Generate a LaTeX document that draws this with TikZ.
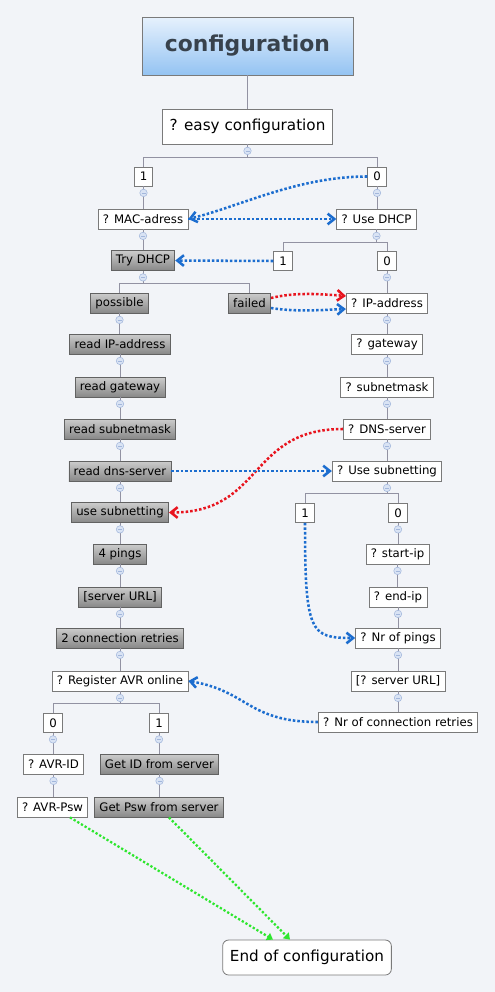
\documentclass[tikz,border=0pt]{standalone}
\usepackage{fontspec}
\setmainfont{DejaVu Sans}
\usetikzlibrary{calc}
\usetikzlibrary{arrows.meta}
\definecolor{bgcol}{HTML}{F2F4F8}
\definecolor{treecol}{HTML}{9292A2}
\definecolor{boxcol}{HTML}{7A7A7A}
\definecolor{titletop}{HTML}{E6F1FD}
\definecolor{titlebot}{HTML}{94C3F2}
\definecolor{titletext}{HTML}{38424C}
\definecolor{acttop}{HTML}{CCCCCC}
\definecolor{actbot}{HTML}{888888}
\definecolor{bluecol}{HTML}{1C6DCF}
\definecolor{redcol}{HTML}{E8141E}
\definecolor{greencol}{HTML}{2EE62E}
\definecolor{knobfill}{HTML}{D9E3F4}
\definecolor{knobline}{HTML}{A3B7DC}
\tikzset{
  qbox/.style={draw=boxcol, line width=0.6pt, fill=white, font=\fontsize{8.8}{10}\selectfont,
    inner xsep=3.6pt, inner ysep=0pt, minimum height=15pt},
  digit/.style={qbox, minimum width=14pt, minimum height=14.25pt, inner xsep=0pt},
  actbox/.style={draw=boxcol!80!black, line width=0.6pt, top color=acttop, bottom color=actbot,
    font=\fontsize{8.8}{10}\selectfont, inner xsep=3.6pt, inner ysep=0pt, minimum height=15pt},
  titlebox/.style={draw=boxcol, line width=0.6pt, top color=titletop, bottom color=titlebot,
    text=titletext, font=\fontsize{16.4}{18}\selectfont\bfseries, minimum width=158.25pt, minimum height=43.5pt},
  bigbox/.style={qbox, font=\fontsize{11.4}{13}\selectfont, inner xsep=5.5pt, minimum height=26.25pt},
  endbox/.style={bigbox, rounded corners=4.5pt},
  tree/.style={draw=treecol, line width=0.6pt},
  knob/.style={circle, draw=knobline, fill=knobfill, line width=0.4pt, inner sep=0pt, minimum size=5.6pt,
    path picture={\draw[knobline, line width=0.4pt] ([xshift=-1.5pt]path picture bounding box.center)
      -- ([xshift=1.5pt]path picture bounding box.center);}},
  blink/.style={draw=bluecol, line width=1.9pt, dash pattern=on 1.9pt off 1.5pt,
    -{Straight Barb[length=5pt,width=8pt,line width=1.9pt]}},
  rlink/.style={blink, draw=redcol},
  glink/.style={draw=greencol, line width=1.7pt, dash pattern=on 1.7pt off 1.5pt,
    -{Triangle[length=4.5pt,width=6pt]}},
}

\begin{document}
\begin{tikzpicture}[x=0.75pt,y=-0.75pt]
    \fill[bgcol] (0,0) rectangle (495,992);
    \useasboundingbox (0,0) rectangle (495,992);

    % root and first question
    \node[titlebox] (title) at (247.5,46) {configuration};
    \node[bigbox] (easy) at (247.5,126.5) {? easy configuration};

    % answers to easy configuration
    \node[digit] (one1) at (143.5,176.5) {1};
    \node[digit] (zero1) at (377,176.5) {0};
    \node[qbox] (mac) at (143,219) {? MAC-adress};
    \node[qbox] (usedhcp) at (376.5,219) {? Use DHCP};

    % dhcp branch
    \node[actbox] (try) at (143,260.5) {Try DHCP};
    \node[digit] (dhcpone) at (283,261) {1};
    \node[digit] (dhcpzero) at (387,261) {0};
    \node[actbox] (possible) at (119.5,303) {possible};
    \node[actbox] (failed) at (249.5,303) {failed};

    % left column, read from dhcp
    \node[actbox] (readip) at (120,344) {read IP-address};
    \node[actbox] (readgw) at (120,387) {read gateway};
    \node[actbox] (readmask) at (120,429) {read subnetmask};
    \node[actbox] (readdns) at (120,471) {read dns-server};
    \node[actbox] (usesubact) at (120,512.5) {use subnetting};
    \node[actbox] (pings4) at (120,554) {4 pings};
    \node[actbox] (srvurl) at (120,597) {[server URL]};
    \node[actbox] (retries2) at (120,638) {2 connection retries};
    \node[qbox] (register) at (120,681) {? Register AVR online};

    % right column, ask the user
    \node[qbox] (ipaddr) at (387,303) {? IP-address};
    \node[qbox] (gateway) at (387,344) {? gateway};
    \node[qbox] (subnet) at (387,387) {? subnetmask};
    \node[qbox] (dns) at (387,429) {? DNS-server};
    \node[qbox] (usesub) at (387,471) {? Use subnetting};
    \node[digit] (subone) at (305,513) {1};
    \node[digit] (subzero) at (398,513) {0};
    \node[qbox] (startip) at (397.5,554) {? start-ip};
    \node[qbox] (endip) at (398,597) {? end-ip};
    \node[qbox] (nrpings) at (398,638) {? Nr of pings};
    \node[qbox] (qsrvurl) at (398,681) {[? server URL]};
    \node[qbox] (nrconn) at (398,722) {? Nr of connection retries};

    % register branch
    \node[digit] (regzero) at (53,723) {0};
    \node[digit] (regone) at (159,723) {1};
    \node[qbox] (avrid) at (53.5,764) {? AVR-ID};
    \node[actbox] (getid) at (159.5,764) {Get ID from server};
    \node[qbox] (avrpsw) at (52.5,807) {? AVR-Psw};
    \node[actbox] (getpsw) at (159,807) {Get Psw from server};

    % end
    \node[endbox] (endc) at (307,957.5) {End of configuration};

    % tree lines
    \draw[tree] (title.south) -- (easy.north);
    \draw[tree] (easy.south) -- ++(0,13) -| (one1.north);
    \draw[tree] (easy.south) -- ++(0,13) -| (zero1.north);
    \draw[tree] (one1.south) -- (one1.south |- mac.north);
    \draw[tree] (zero1.south) -- (zero1.south |- usedhcp.north);
    \draw[tree] (mac.south) -- (mac.south |- try.north);
    \draw[tree] (usedhcp.south) -- ++(0,13) -| (dhcpone.north);
    \draw[tree] (usedhcp.south) -- ++(0,13) -| (dhcpzero.north);
    \draw[tree] (try.south) -- ++(0,12) -| (possible.north);
    \draw[tree] (try.south) -- ++(0,12) -| (failed.north);
    \draw[tree] (possible.south) -- (possible.south |- readip.north);
    \draw[tree] (readip) -- (readgw);
    \draw[tree] (readgw) -- (readmask);
    \draw[tree] (readmask) -- (readdns);
    \draw[tree] (readdns) -- (usesubact);
    \draw[tree] (usesubact) -- (pings4);
    \draw[tree] (pings4) -- (srvurl);
    \draw[tree] (srvurl) -- (retries2);
    \draw[tree] (retries2) -- (register);
    \draw[tree] (dhcpzero) -- (ipaddr);
    \draw[tree] (ipaddr) -- (gateway);
    \draw[tree] (gateway) -- (subnet);
    \draw[tree] (subnet) -- (dns);
    \draw[tree] (dns) -- (usesub);
    \draw[tree] (usesub.south) -- ++(0,12) -| (subone.north);
    \draw[tree] (usesub.south) -- ++(0,12) -| (subzero.north);
    \draw[tree] (subzero.south) -- (subzero.south |- startip.north);
    \draw[tree] (startip.south) -- (startip.south |- endip.north);
    \draw[tree] (endip) -- (nrpings);
    \draw[tree] (nrpings) -- (qsrvurl);
    \draw[tree] (qsrvurl) -- (nrconn);
    \draw[tree] (register.south) -- ++(0,12) -| (regzero.north);
    \draw[tree] (register.south) -- ++(0,12) -| (regone.north);
    \draw[tree] (regzero.south) -- (regzero.south |- avrid.north);
    \draw[tree] (avrid.south) -- (avrid.south |- avrpsw.north);
    \draw[tree] (regone.south) -- (regone.south |- getid.north);
    \draw[tree] (getid.south) -- (getid.south |- getpsw.north);

    % collapse knobs
    \node[knob] (keasy) at ($(easy.south)+(0,6.5)$) {};
    \node[knob] (kone1) at ($(one1.south)+(0,6.5)$) {};
    \node[knob] (kzero1) at ($(zero1.south)+(0,6.5)$) {};
    \node[knob] (kmac) at ($(mac.south)+(0,6.5)$) {};
    \node[knob] (kusedhcp) at ($(usedhcp.south)+(0,6.5)$) {};
    \node[knob] (ktry) at ($(try.south)+(0,6.5)$) {};
    \node[knob] (kdhcpzero) at ($(dhcpzero.south)+(0,6.5)$) {};
    \node[knob] (kpossible) at ($(possible.south)+(0,6.5)$) {};
    \node[knob] (kreadip) at ($(readip.south)+(0,6.5)$) {};
    \node[knob] (kreadgw) at ($(readgw.south)+(0,6.5)$) {};
    \node[knob] (kreadmask) at ($(readmask.south)+(0,6.5)$) {};
    \node[knob] (kreaddns) at ($(readdns.south)+(0,6.5)$) {};
    \node[knob] (kusesubact) at ($(usesubact.south)+(0,6.5)$) {};
    \node[knob] (kpings4) at ($(pings4.south)+(0,6.5)$) {};
    \node[knob] (ksrvurl) at ($(srvurl.south)+(0,6.5)$) {};
    \node[knob] (kretries2) at ($(retries2.south)+(0,6.5)$) {};
    \node[knob] (kregister) at ($(register.south)+(0,6.5)$) {};
    \node[knob] (kipaddr) at ($(ipaddr.south)+(0,6.5)$) {};
    \node[knob] (kgateway) at ($(gateway.south)+(0,6.5)$) {};
    \node[knob] (ksubnet) at ($(subnet.south)+(0,6.5)$) {};
    \node[knob] (kdns) at ($(dns.south)+(0,6.5)$) {};
    \node[knob] (kusesub) at ($(usesub.south)+(0,6.5)$) {};
    \node[knob] (ksubzero) at ($(subzero.south)+(0,6.5)$) {};
    \node[knob] (kstartip) at ($(startip.south)+(0,6.5)$) {};
    \node[knob] (kendip) at ($(endip.south)+(0,6.5)$) {};
    \node[knob] (knrpings) at ($(nrpings.south)+(0,6.5)$) {};
    \node[knob] (kqsrvurl) at ($(qsrvurl.south)+(0,6.5)$) {};
    \node[knob] (kregzero) at ($(regzero.south)+(0,6.5)$) {};
    \node[knob] (kregone) at ($(regone.south)+(0,6.5)$) {};
    \node[knob] (kavrid) at ($(avrid.south)+(0,6.5)$) {};
    \node[knob] (kgetid) at ($(getid.south)+(0,6.5)$) {};

    % 0 to MAC-adress
    \draw[blink] (zero1.west) .. controls +(-70,0) and +(50,-12) .. (mac.east);
    % MAC-adress to Use DHCP
    \draw[blink] (mac.east) -- (usedhcp.west);
    % 1 to Try DHCP
    \draw[blink] (dhcpone.west) -- (try.east);
    % failed to IP-address
    \draw[rlink] ($(failed.east)+(0,-5)$) .. controls +(25,-6) and +(-25,-2) .. ($(ipaddr.west)+(0,-7)$);
    \draw[blink] ($(failed.east)+(0,5)$) .. controls +(25,4) and +(-25,1) .. ($(ipaddr.west)+(0,6)$);
    % DNS-server to use subnetting
    \draw[rlink] (dns.west) .. controls +(-95,0) and +(95,0) .. (usesubact.east);
    % read dns-server to Use subnetting
    \draw[blink] (readdns.east) -- (usesub.west);
    % 1 to Nr of pings
    \draw[blink] (subone.south) .. controls +(0,110) and +(-45,0) .. (nrpings.west);
    % Nr of connection retries to Register AVR online
    \draw[blink] (nrconn.west) .. controls +(-70,0) and +(60,10) .. (register.east);
    % to the end
    \draw[glink] ($(avrpsw.south)+(17.5,0)$) -- ($(endc.north)+(-34,0)$);
    \draw[glink] ($(getpsw.south)+(10,0)$) -- ($(endc.north)+(-17,0)$);
\end{tikzpicture}
\end{document}
